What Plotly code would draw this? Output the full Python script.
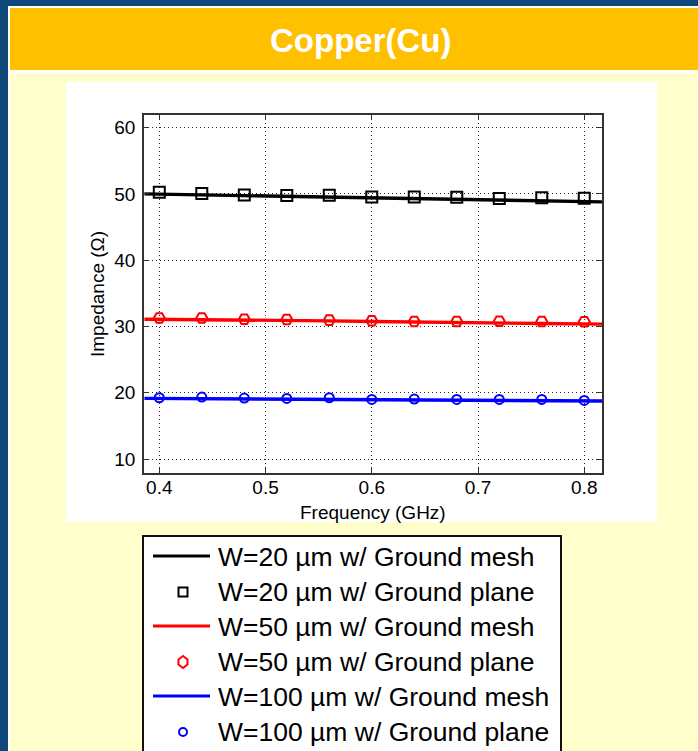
import plotly.graph_objects as go

# ---------------- data ----------------
freq_mesh = [0.386, 0.44, 0.48, 0.52, 0.56, 0.60, 0.64, 0.68, 0.72, 0.76, 0.817]
freq_plane = [0.40, 0.44, 0.48, 0.52, 0.56, 0.60, 0.64, 0.68, 0.72, 0.76, 0.80]

z20_mesh = [50.0, 49.85, 49.7, 49.55, 49.45, 49.3, 49.2, 49.1, 48.95, 48.9, 48.8]
z20_plane = [50.25, 50.05, 49.85, 49.75, 49.8, 49.55, 49.55, 49.5, 49.3, 49.4, 49.35]

z50_mesh = [31.1, 31.05, 31.0, 30.9, 30.85, 30.75, 30.65, 30.6, 30.55, 30.45, 30.35]
z50_plane = [31.27, 31.27, 31.1, 31.05, 30.96, 30.86, 30.76, 30.76, 30.8, 30.76, 30.71]

z100_mesh = [19.15, 19.1, 19.1, 19.05, 19.0, 18.95, 18.9, 18.9, 18.85, 18.8, 18.75]
z100_plane = [19.25, 19.35, 19.2, 19.15, 19.25, 19.0, 19.05, 19.0, 19.0, 19.0, 18.85]

x_ticks = [0.4, 0.5, 0.6, 0.7, 0.8]
y_ticks = [10, 20, 30, 40, 50, 60]

series_names = [
    "W=20 µm w/ Ground mesh",
    "W=20 µm w/ Ground plane",
    "W=50 µm w/ Ground mesh",
    "W=50 µm w/ Ground plane",
    "W=100 µm w/ Ground mesh",
    "W=100 µm w/ Ground plane",
]

title_text = "Copper(Cu)"
x_title = "Frequency (GHz)"
y_title = "Impedance (Ω)"

# ---------------- layout helpers ----------------
W, H = 698, 751


def px(x):
    return x / W


def py(y):
    return 1 - y / H


BLACK = "#000000"
RED = "#FF0000"
BLUE = "#0000FF"
FONT = "Arial, Liberation Sans, Helvetica, sans-serif"

fig = go.Figure()

line_w = 3.4
fig.add_trace(go.Scatter(x=freq_mesh, y=z20_mesh, mode="lines",
                         line=dict(color=BLACK, width=line_w), name=series_names[0]))
fig.add_trace(go.Scatter(x=freq_plane, y=z20_plane, mode="markers",
                         marker=dict(symbol="square-open", size=11, color=BLACK,
                                     line=dict(width=2, color=BLACK)),
                         name=series_names[1]))
fig.add_trace(go.Scatter(x=freq_mesh, y=z50_mesh, mode="lines",
                         line=dict(color=RED, width=line_w), name=series_names[2]))
fig.add_trace(go.Scatter(x=freq_plane, y=z50_plane, mode="markers",
                         marker=dict(symbol="hexagon2-open", size=11, color=RED,
                                     line=dict(width=2, color=RED)),
                         name=series_names[3]))
fig.add_trace(go.Scatter(x=freq_mesh, y=z100_mesh, mode="lines",
                         line=dict(color=BLUE, width=line_w), name=series_names[4]))
fig.add_trace(go.Scatter(x=freq_plane, y=z100_plane, mode="markers",
                         marker=dict(symbol="circle-open", size=9, color=BLUE,
                                     line=dict(width=2, color=BLUE)),
                         name=series_names[5]))

# ---------------- background panels ----------------
shapes = [
    # white frame of the slide panel
    dict(type="rect", xref="paper", yref="paper", x0=px(8), x1=px(698), y0=py(751), y1=py(6),
         fillcolor="#FFFFFF", line=dict(width=0), layer="below"),
    # header bar
    dict(type="rect", xref="paper", yref="paper", x0=px(10), x1=px(698), y0=py(70), y1=py(8),
         fillcolor="#FFC000", line=dict(width=0), layer="below"),
    # light yellow body
    dict(type="rect", xref="paper", yref="paper", x0=px(10), x1=px(698), y0=py(751), y1=py(73),
         fillcolor="#FFFFCC", line=dict(width=0), layer="below"),
    # white figure box
    dict(type="rect", xref="paper", yref="paper", x0=px(66), x1=px(657), y0=py(522), y1=py(82),
         fillcolor="#FFFFFF", line=dict(width=0), layer="below"),
    # legend box
    dict(type="rect", xref="paper", yref="paper", x0=px(143), x1=px(561), y0=py(760), y1=py(536),
         fillcolor="#FFFFFF", line=dict(width=2, color="#111111"), layer="above"),
]

annotations = [
    dict(text=f"<b>{title_text}</b>", xref="paper", yref="paper", x=px(360), y=py(40),
         xanchor="center", yanchor="middle", showarrow=False,
         font=dict(family="Liberation Sans Narrow, Arial Narrow, Liberation Sans, Arial",
                   size=33, color="#FFFFFF")),
    dict(text=x_title, xref="paper", yref="paper", x=px(373), y=py(512),
         xanchor="center", yanchor="middle", showarrow=False,
         font=dict(family=FONT, size=19, color=BLACK)),
    dict(text=y_title, xref="paper", yref="paper", x=px(97), y=py(294),
         xanchor="center", yanchor="middle", showarrow=False, textangle=-90,
         font=dict(family=FONT, size=19, color=BLACK)),
]

# ---------------- legend (drawn) ----------------
row_y = [557, 592, 627, 662, 697, 732]
sample_x0, sample_x1, sample_xc = 153, 210, 183
legend_styles = [
    ("line", BLACK), ("square", BLACK), ("line", RED),
    ("hexagon", RED), ("line", BLUE), ("circle", BLUE),
]
for name, yc, (kind, col) in zip(series_names, row_y, legend_styles):
    if kind == "line":
        shapes.append(dict(type="line", xref="paper", yref="paper",
                           x0=px(sample_x0), x1=px(sample_x1), y0=py(yc - 1), y1=py(yc - 1),
                           line=dict(color=col, width=3), layer="above"))
    elif kind == "square":
        shapes.append(dict(type="rect", xref="paper", yref="paper",
                           x0=px(sample_xc - 4.5), x1=px(sample_xc + 4.5),
                           y0=py(yc + 4.5), y1=py(yc - 4.5),
                           line=dict(color=col, width=2), layer="above"))
    elif kind == "circle":
        shapes.append(dict(type="circle", xref="paper", yref="paper",
                           x0=px(sample_xc - 4), x1=px(sample_xc + 4),
                           y0=py(yc + 4), y1=py(yc - 4),
                           line=dict(color=col, width=2), layer="above"))
    else:
        pts = [(sample_xc, yc - 6), (sample_xc + 4.5, yc - 2.5), (sample_xc + 4.5, yc + 2.5),
               (sample_xc, yc + 6), (sample_xc - 4.5, yc + 2.5), (sample_xc - 4.5, yc - 2.5)]
        path = "M " + " L ".join(f"{px(a):.5f},{py(b):.5f}" for a, b in pts) + " Z"
        shapes.append(dict(type="path", xref="paper", yref="paper", path=path,
                           line=dict(color=col, width=2), layer="above"))
    annotations.append(dict(text=name, xref="paper", yref="paper", x=px(216), y=py(yc),
                            xanchor="left", yanchor="middle", showarrow=False,
                            font=dict(family=FONT, size=26.5, color=BLACK)))

axis_common = dict(
    showline=True, linecolor="#333333", linewidth=1.5, mirror="ticks",
    ticks="inside", ticklen=5, tickwidth=1, tickcolor="#333333",
    showgrid=True, gridcolor="#222222", gridwidth=1, griddash="1px,3px",
    zeroline=False, automargin=False,
    tickfont=dict(family=FONT, size=19, color=BLACK),
)

fig.update_layout(
    width=W, height=H, autosize=False,
    margin=dict(l=0, r=0, t=0, b=0),
    paper_bgcolor="#0E4778",
    plot_bgcolor="rgba(0,0,0,0)",
    showlegend=False,
    shapes=shapes,
    annotations=annotations,
    xaxis=dict(domain=[px(144), px(602)], range=[0.3856, 0.8167],
               tickvals=x_ticks, ticktext=[f"{v:.1f}" for v in x_ticks],
               ticklabelstandoff=-4, **axis_common),
    yaxis=dict(domain=[py(473), py(115)], range=[7.9, 61.9],
               tickvals=y_ticks, ticktext=[str(v) for v in y_ticks],
               ticklabelstandoff=3, **axis_common),
)

fig.write_html("out.html")
